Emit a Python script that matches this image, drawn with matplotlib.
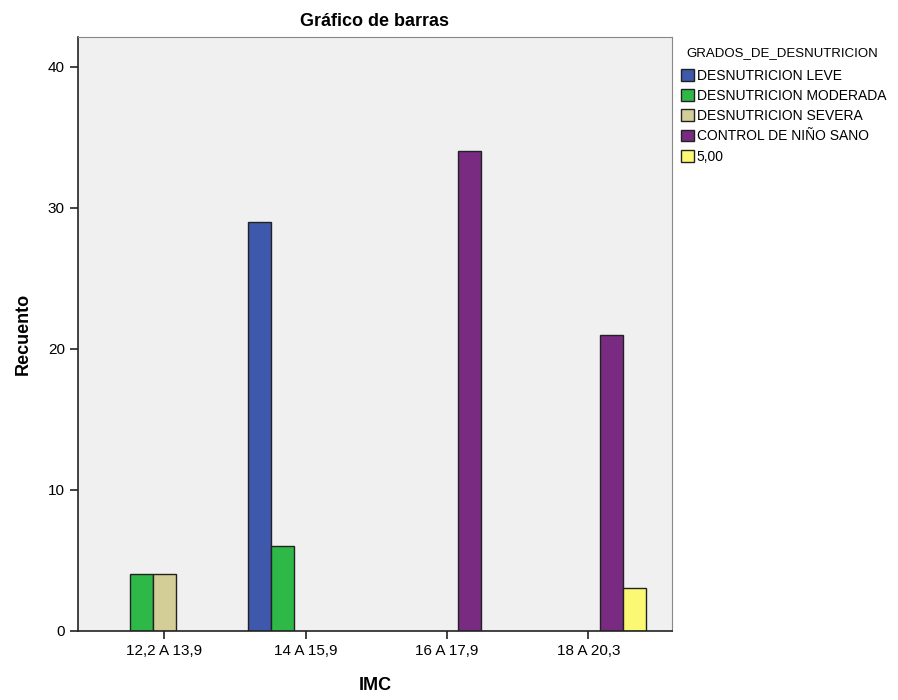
import numpy as np
from matplotlib import pyplot as plt

categorias = ["12,2 A 13,9", "14 A 15,9", "16 A 17,9", "18 A 20,3"]
series = ["DESNUTRICION LEVE", "DESNUTRICION MODERADA", "DESNUTRICION SEVERA",
          "CONTROL DE NIÑO SANO", "5,00"]
leve = [0, 29, 0, 0]
moderada = [4, 6, 0, 0]
severa = [4, 0, 0, 0]
control = [0, 0, 34, 21]
cinco = [0, 0, 0, 3]
colores = ["#3e58ac", "#2eb848", "#d3ce97", "#782b80", "#fbf873"]

plt.rcParams['font.family'] = ['Liberation Sans', 'DejaVu Sans']

fig = plt.figure(figsize=(8.98, 7), dpi=100)
ax = fig.add_axes([0.087, 0.099, 0.661, 0.848])
ax.set_facecolor("#f0f0f0")

x = np.arange(len(categorias))
w = 0.162
valores = [leve, moderada, severa, control, cinco]
for i, (nombre, vals) in enumerate(zip(series, valores)):
    xs = [xx + (i - 2) * w for xx, v in zip(x, vals) if v > 0]
    vs = [v for v in vals if v > 0]
    ax.bar(xs, vs, width=w, color=colores[i], edgecolor="#222222", linewidth=1)
    # entrada de leyenda aunque falten barras
    ax.bar([0], [0], width=0, color=colores[i], edgecolor="#222222", label=nombre)

ax.set_xlim(-0.61, 3.59)
ax.set_ylim(0, 42.1)
ax.set_yticks([0, 10, 20, 30, 40])
ax.set_xticks(x)
ax.set_xticklabels(categorias)
ax.tick_params(labelsize=11, length=6, width=1.2, color="#222222")

for s in ["top", "right"]:
    ax.spines[s].set_color("#888888")
for s in ["left", "bottom"]:
    ax.spines[s].set_color("#222222")
    ax.spines[s].set_linewidth(1.2)

ax.set_title("Gráfico de barras", fontsize=13, fontweight="bold", pad=8)
ax.set_xlabel("IMC", fontsize=13, fontweight="bold", labelpad=14)
ax.set_ylabel("Recuento", fontsize=13, fontweight="bold", labelpad=12)

leg = ax.legend(loc="upper left", bbox_to_anchor=(1.0, 1.0), frameon=False,
                title="GRADOS_DE_DESNUTRICION", title_fontsize=9.5,
                fontsize=10, handlelength=0.9, handleheight=0.9,
                handletextpad=0.2, labelspacing=0.45, borderaxespad=0.3)
leg._legend_box.align = "left"
leg._legend_box.sep = 7
leg.get_title().set_position((5, 0))

plt.savefig("out.png", dpi=100)
